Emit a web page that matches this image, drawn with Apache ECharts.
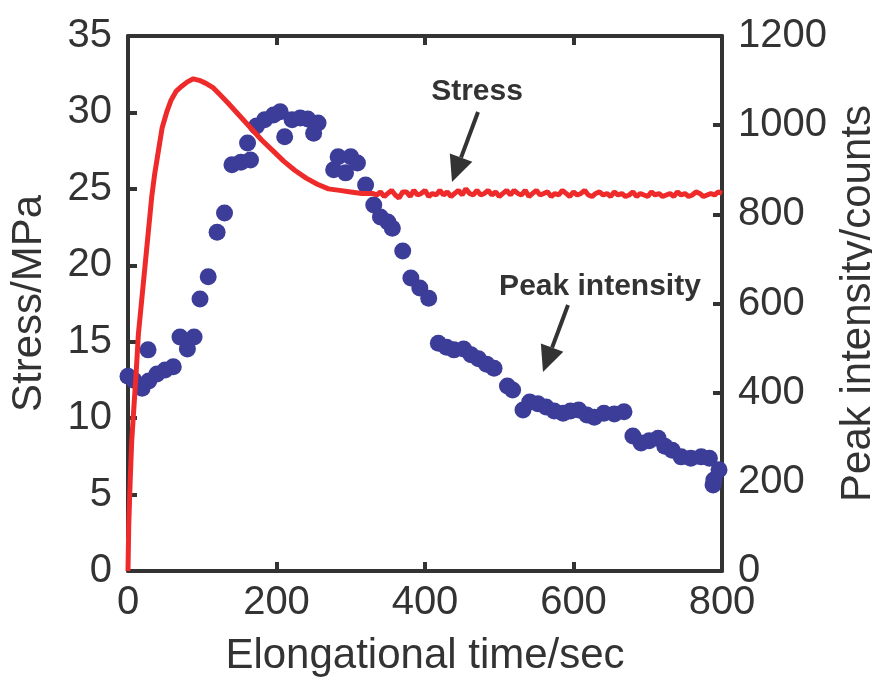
<!DOCTYPE html>
<html>
<head>
<meta charset="utf-8">
<script src="https://cdn.jsdelivr.net/npm/echarts@6/dist/echarts.min.js"></script>
<style>
html,body{margin:0;padding:0;background:#fff;}
#chart{width:872px;height:688px;}
</style>
</head>
<body>
<div id="chart"></div>
<script>
// ---- Data ----
const xTicks = [0, 200, 400, 600, 800];
const stressTicks = [0, 5, 10, 15, 20, 25, 30, 35];
const intensityTicks = [0, 200, 400, 600, 800, 1000, 1200];

// Stress curve (time in sec, stress in MPa)
const stressTime = [0,1,3,5,7,9,11,14,17,20,24,28,32,36,40,46,52,58,65,72,80,88,96,105,115,125,135,
  150,165,180,195,210,225,240,255,270,285,300,315,330,
  335,340,345,350,355,360,365,370,375,380,385,390,395,400,405,410,415,420,425,430,
  435,440,445,450,455,460,465,470,475,480,485,490,495,500,505,510,515,520,525,530,
  535,540,545,550,555,560,565,570,575,580,585,590,595,600,605,610,615,620,625,630,
  635,640,645,650,655,660,665,670,675,680,685,690,695,700,705,710,715,720,725,730,
  735,740,745,750,755,760,765,770,775,780,785,790,795,800];
const stressValue = [0,3,6,8.5,10,11.5,13,15.5,17,18.5,20.5,22.5,24.5,26,27.2,29,30,30.8,31.4,31.7,32,32.2,32.1,31.9,31.6,31.1,30.6,
  29.8,29,28.2,27.5,26.8,26.2,25.7,25.3,25.0,24.9,24.8,24.7,24.7,
  24.6,24.8,24.5,24.7,24.9,24.6,24.4,24.8,24.8,24.5,24.9,24.6,24.7,24.9,24.5,24.7,24.6,24.9,24.6,24.8,
  24.5,24.7,24.9,24.6,25.0,24.7,24.6,24.9,24.6,24.7,24.9,24.6,24.8,24.5,24.7,24.9,24.6,24.9,24.7,24.6,
  24.9,24.5,24.7,24.9,24.6,24.7,24.8,24.5,24.7,24.6,24.9,24.7,24.5,24.8,24.6,24.7,24.9,24.6,24.5,24.7,
  24.8,24.6,24.7,24.5,24.8,24.6,24.7,24.5,24.6,24.8,24.5,24.7,24.6,24.5,24.8,24.6,24.7,24.5,24.6,24.7,
  24.5,24.8,24.6,24.7,24.5,24.6,24.8,24.7,24.5,24.6,24.7,24.6,24.8,24.7];

// Peak intensity (time in sec, counts)
const intensityTime = [0,8,19,27,28,39,50,61,70,80,89,97,108,120,130,140,152,161,165,173,184,196,205,211,221,232,242,250,256,
  277,283,293,300,309,320,331,340,350,356,370,381,393,405,418,429,439,452,462,472,483,493,511,518,
  532,541,552,563,574,586,596,607,618,628,641,655,668,680,691,702,714,723,733,745,758,772,783,788,789,796];
const intensityValue = [437,428,410,496,426,442,451,458,525,498,525,610,660,760,803,911,917,960,922,998,1012,1023,1030,974,1012,1016,1014,982,1005,
  900,929,893,929,915,866,821,794,783,769,718,657,635,612,511,502,496,498,485,476,464,455,415,406,
  361,379,375,368,359,354,359,361,350,345,354,352,357,303,287,292,298,280,271,256,253,256,253,193,204,227];

const stressPairs = stressTime.map((t, i) => [t, stressValue[i]]);
const intensityPairs = intensityTime.map((t, i) => [t, intensityValue[i]]);

const FONT = '"Liberation Sans", Arial, sans-serif';
const AX = '#333333';

function arrow(x1, y1, x2, y2) {
  const dx = x2 - x1, dy = y2 - y1, L = Math.hypot(dx, dy);
  const ux = dx / L, uy = dy / L, nx = -uy, ny = ux;
  const hl = 26, hw = 12;
  const bx = x2 - hl * ux, by = y2 - hl * uy;
  return [
    { type: 'line', shape: { x1: x1, y1: y1, x2: bx, y2: by }, style: { stroke: AX, lineWidth: 4 } },
    { type: 'polygon', shape: { points: [[x2, y2], [bx + hw * nx, by + hw * ny], [bx - hw * nx, by - hw * ny]] }, style: { fill: AX } }
  ];
}

const chart = echarts.init(document.getElementById('chart'), null, { renderer: 'canvas' });

const baseX = {
  type: 'value', min: 0, max: 800, interval: 200,
  axisLine: { show: true, onZero: false, lineStyle: { color: AX, width: 4 } },
  axisTick: { show: true, inside: true, length: 9, lineStyle: { color: AX, width: 4 } },
  splitLine: { show: false }
};

chart.setOption({
  animation: false,
  backgroundColor: '#ffffff',
  grid: { left: 128, right: 150, top: 36, bottom: 117, containLabel: false, outerBoundsMode: 'none' },
  xAxis: [
    Object.assign({}, baseX, {
      position: 'bottom',
      axisLabel: { fontSize: 40, fontFamily: FONT, color: AX, margin: 12, formatter: v => xTicks.includes(v) ? String(v) : '' },
      name: 'Elongational time/sec', nameLocation: 'middle', nameGap: 64,
      nameTextStyle: { fontSize: 42, fontFamily: FONT, color: AX }
    }),
    Object.assign({}, baseX, { position: 'top', axisLabel: { show: false } })
  ],
  yAxis: [
    {
      type: 'value', min: 0, max: 35, interval: 5, position: 'left',
      axisLine: { show: true, onZero: false, lineStyle: { color: AX, width: 4 } },
      axisTick: { show: true, inside: true, length: 9, lineStyle: { color: AX, width: 4 } },
      axisLabel: { fontSize: 40, fontFamily: FONT, color: AX, margin: 16, formatter: v => stressTicks.includes(v) ? String(v) : '' },
      splitLine: { show: false },
      name: 'Stress/MPa', nameLocation: 'middle', nameGap: 78, nameRotate: 90,
      nameTextStyle: { fontSize: 42, fontFamily: FONT, color: AX }
    },
    {
      type: 'value', min: 0, max: 1200, interval: 200, position: 'right',
      axisLine: { show: true, onZero: false, lineStyle: { color: AX, width: 4 } },
      axisTick: { show: true, inside: true, length: 9, lineStyle: { color: AX, width: 4 } },
      axisLabel: { fontSize: 40, fontFamily: FONT, color: AX, margin: 16, formatter: v => intensityTicks.includes(v) ? String(v) : '' },
      splitLine: { show: false },
      name: 'Peak intensity/counts', nameLocation: 'middle', nameGap: 103, nameRotate: 90,
      nameTextStyle: { fontSize: 42, fontFamily: FONT, color: AX }
    }
  ],
  series: [
    {
      name: 'Peak intensity', type: 'scatter', xAxisIndex: 0, yAxisIndex: 1,
      data: intensityPairs, symbol: 'circle', symbolSize: 17,
      itemStyle: { color: '#3c3d98', opacity: 1 }, z: 2
    },
    {
      name: 'Stress', type: 'line', xAxisIndex: 0, yAxisIndex: 0,
      data: stressPairs, showSymbol: false, smooth: false,
      lineStyle: { color: '#ee2a2a', width: 5 }, z: 3
    }
  ],
  graphic: [
    { type: 'text', x: 477, y: 92, style: { text: 'Stress', font: 'bold 30px ' + FONT, fill: AX, align: 'center', verticalAlign: 'middle' }, z: 10 },
    { type: 'text', x: 600, y: 287, style: { text: 'Peak intensity', font: 'bold 30px ' + FONT, fill: AX, align: 'center', verticalAlign: 'middle' }, z: 10 }
  ].concat(arrow(478, 112, 452, 182)).concat(arrow(568, 305, 543, 372))
});
</script>
</body>
</html>
